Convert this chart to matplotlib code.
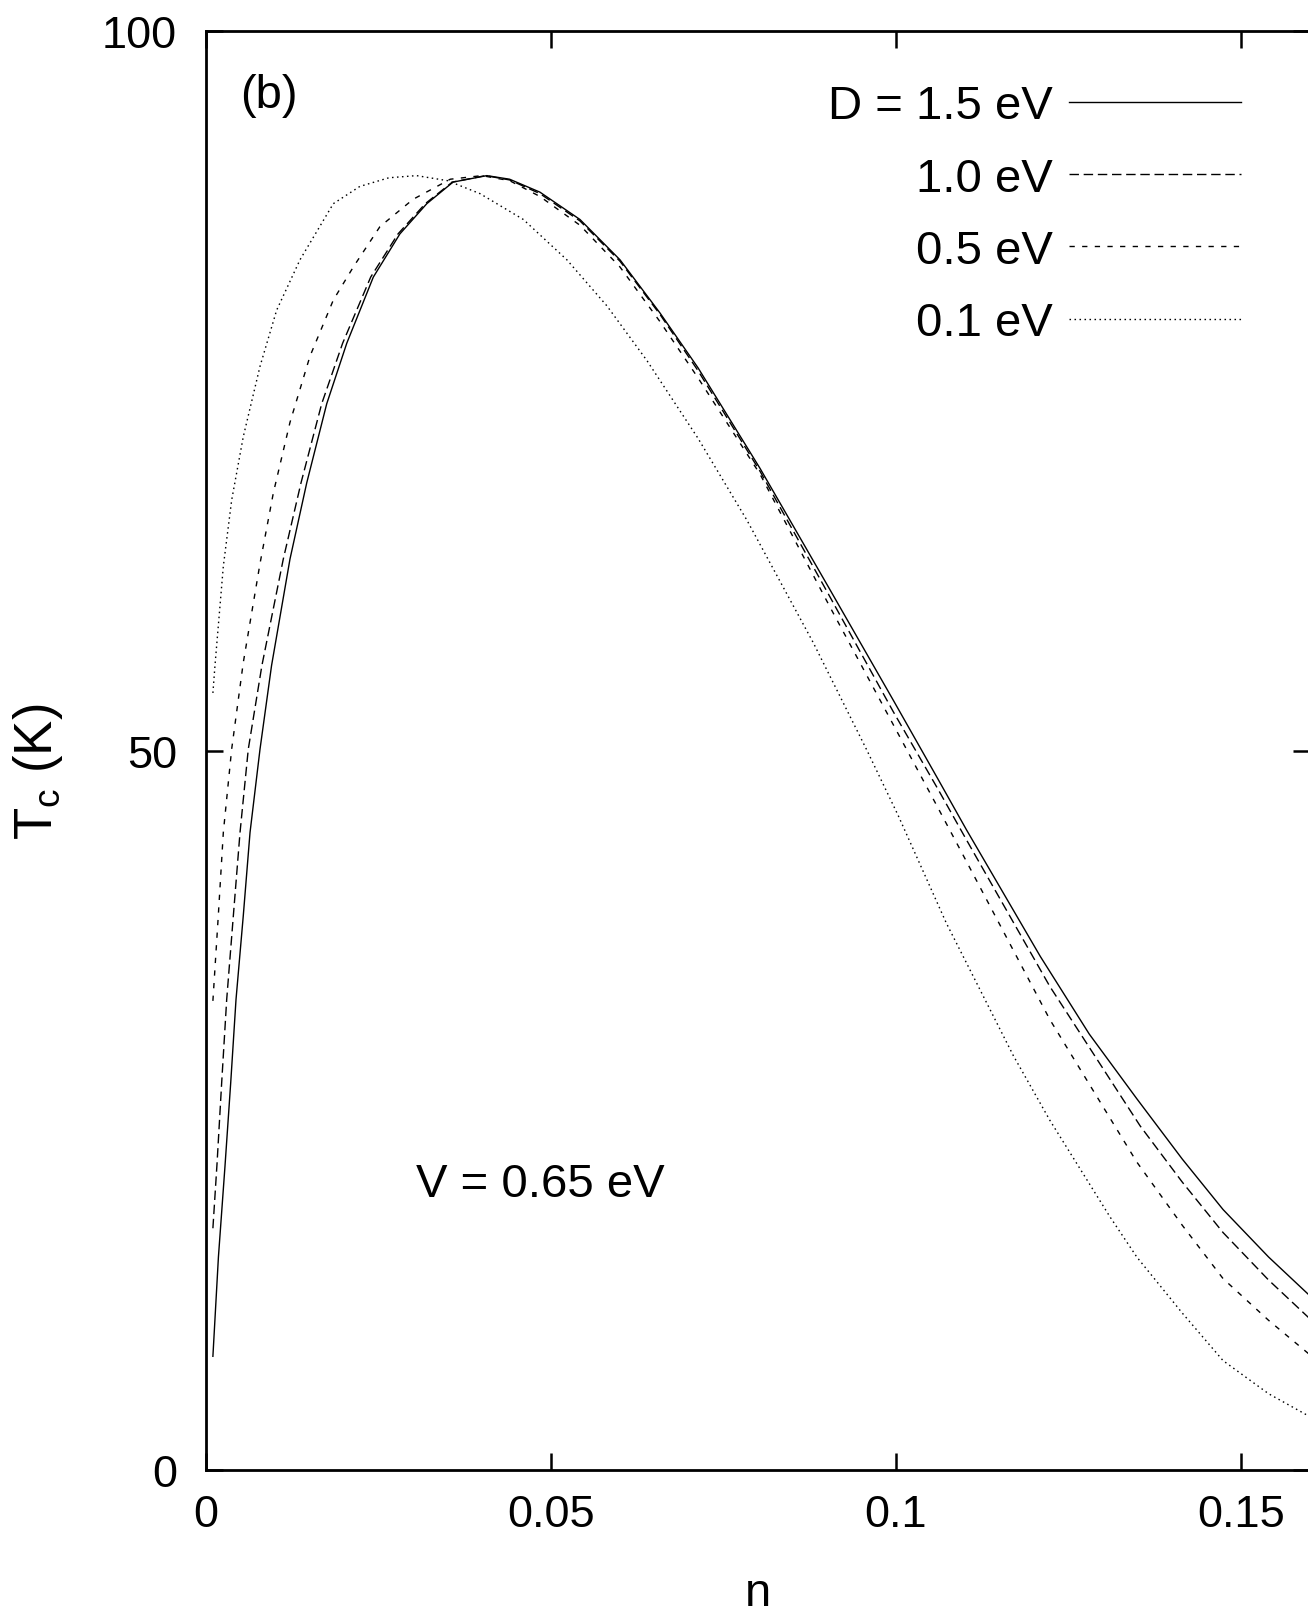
import matplotlib
matplotlib.use("Agg")
import matplotlib.pyplot as plt

plt.rcParams['font.family'] = ['Liberation Sans', 'DejaVu Sans']
plt.rcParams['mathtext.fontset'] = 'custom'
plt.rcParams['mathtext.rm'] = 'Liberation Sans'

# Tc(n) curves, one per bandwidth D
n_15 = [0.001, 0.0018, 0.00275, 0.00358, 0.00435, 0.0054, 0.00638, 0.00783, 0.0095, 0.01217,
        0.0146, 0.0175, 0.0204, 0.02425, 0.0281, 0.032, 0.0358, 0.0407, 0.044, 0.0484, 0.0542,
        0.060, 0.0658, 0.0713, 0.0803, 0.0904, 0.0996, 0.1061, 0.1102, 0.1209, 0.128, 0.1349,
        0.1415, 0.1474, 0.154, 0.160]
tc_15 = [7.9, 14.8, 21.1, 26.9, 32.7, 38.5, 44.3, 50.1, 55.9, 63.3,
         68.6, 74.1, 78.3, 82.9, 85.9, 88.0, 89.5, 89.95, 89.7, 88.8, 86.9,
         84.1, 80.4, 76.6, 69.6, 61.2, 53.5, 48.0, 44.5, 35.7, 30.3, 25.8,
         21.6, 18.1, 14.8, 12.1]

n_10 = [0.001, 0.0016, 0.00227, 0.003, 0.00396, 0.00493, 0.00613, 0.0081, 0.0112, 0.01377,
        0.01677, 0.0198, 0.02387, 0.02783, 0.03178, 0.0357, 0.0405, 0.044, 0.0484, 0.0542, 0.060,
        0.0658, 0.0713, 0.0803, 0.0904, 0.0996, 0.1061, 0.1102, 0.1223, 0.1354, 0.1415, 0.1474,
        0.154, 0.160]
tc_10 = [16.8, 21.3, 26.9, 32.7, 38.5, 44.3, 50.1, 55.9, 63.3, 68.6,
         74.1, 78.3, 82.9, 85.9, 88.0, 89.5, 89.95, 89.65, 88.7, 86.8, 84.0,
         80.3, 76.4, 69.4, 60.7, 52.7, 47.3, 43.8, 33.6, 23.9, 20.0, 16.5,
         13.2, 10.5]

n_05 = [0.001, 0.00178, 0.00251, 0.00372, 0.0054, 0.00783, 0.00976, 0.01217, 0.01507, 0.01845,
        0.02135, 0.0252, 0.030, 0.0354, 0.040, 0.044, 0.0484, 0.0542, 0.060, 0.0658, 0.0713,
        0.0803, 0.0904, 0.0996, 0.1061, 0.1102, 0.1223, 0.1349, 0.1415, 0.1474, 0.154, 0.160]
tc_05 = [32.6, 38.5, 44.3, 50.1, 56.1, 63.0, 67.9, 72.8, 77.4, 81.3,
         83.6, 86.4, 88.3, 89.7, 89.95, 89.6, 88.5, 86.5, 83.6, 79.8, 75.9,
         69.2, 60.0, 51.8, 46.0, 42.3, 31.3, 21.4, 17.0, 13.3, 10.4, 8.0]

n_01 = [0.001, 0.0013, 0.00251, 0.00372, 0.0054, 0.00783, 0.01024, 0.01362, 0.01845, 0.0223,
        0.0265, 0.0305, 0.035, 0.0397, 0.046, 0.0523, 0.0581, 0.0639, 0.0713, 0.0784, 0.088,
        0.0958, 0.1003, 0.1073, 0.117, 0.1223, 0.131, 0.1349, 0.1415, 0.1474, 0.154, 0.160]
tc_01 = [54.0, 55.9, 62.8, 67.4, 71.8, 76.7, 80.6, 84.1, 88.0, 89.2,
         89.8, 89.95, 89.6, 88.7, 86.9, 84.1, 80.9, 77.1, 71.7, 66.0, 57.5,
         50.0, 45.5, 38.0, 28.8, 24.3, 17.6, 14.8, 10.9, 7.6, 5.3, 3.7]

labels = ['D = 1.5 eV', '1.0 eV', '0.5 eV', '0.1 eV']
xticks = [0, 0.05, 0.1, 0.15]
xticklabels = ['0', '0.05', '0.1', '0.15']
yticks = [0, 50, 100]

fig = plt.figure(figsize=(13.08, 16.15), dpi=100)
ax = fig.add_axes([206 / 1308, 1 - 1471 / 1615, 1104 / 1308, 1439 / 1615])

lw = 1.0
l1, = ax.plot(n_15, tc_15, color='black', lw=lw, ls='-')
l2, = ax.plot(n_10, tc_10, color='black', lw=lw, ls=(0, (6.8, 3.4)))
l3, = ax.plot(n_05, tc_05, color='black', lw=lw, ls=(0, (3.8, 5.3)))
l4, = ax.plot(n_01, tc_01, color='black', lw=lw, ls=(0, (1.1, 2.5)))

ax.set_xlim(0, 0.16)
ax.set_ylim(0, 100)
ax.set_xticks(xticks)
ax.set_xticklabels(xticklabels)
ax.set_yticks(yticks)
for s in ax.spines.values():
    s.set_linewidth(2.0)
ax.tick_params(direction='in', length=12, width=1.8, top=True, right=True,
               labelsize=32.5)
ax.tick_params(axis='x', pad=17)
ax.tick_params(axis='y', pad=21)

ax.set_xlabel('n', fontsize=34)
ax.xaxis.set_label_coords(0.5, -0.07)
ax.set_ylabel(r'T$_{\mathregular{c}}$ (K)', fontsize=38)
ax.yaxis.set_label_coords(-0.128, 0.486)

ax.text(0.031, 0.9557, '(b)', transform=ax.transAxes, fontsize=34, ha='left', va='center')
ax.text(0.0304, 19.9, 'V = 0.65 eV', fontsize=34, ha='left', va='center')

ax.legend([l1, l2, l3, l4], labels, loc='upper right', bbox_to_anchor=(0.9375, 0.963),
          frameon=False, markerfirst=False, fontsize=34, handlelength=3.64,
          handletextpad=0.34, labelspacing=0.60, borderpad=0, borderaxespad=0)

fig.savefig('out.png', dpi=100)
